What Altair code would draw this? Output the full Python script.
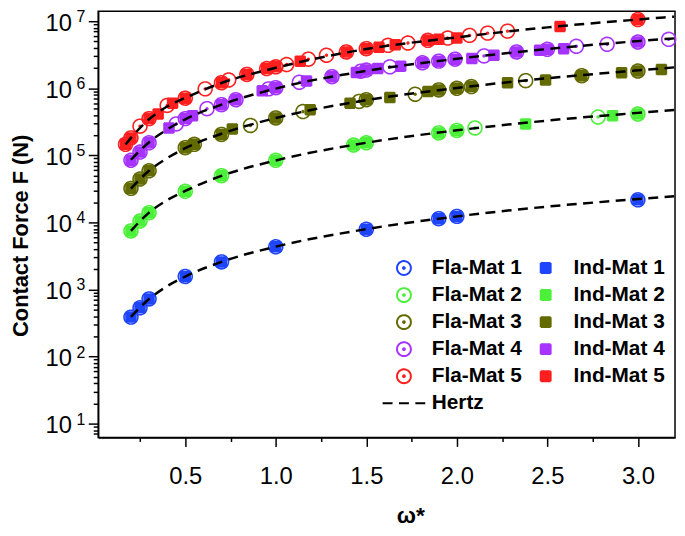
import altair as alt
import pandas as pd

# ---------------- data ----------------
fla1_x = [0.2, 0.25, 0.3, 0.5, 0.7, 1.0, 1.5, 1.9, 2.0, 3.0]
fla1_F = [387, 533, 722, 1563, 2577, 4335, 7906, 11370, 12300, 21700]
ind1_x = [0.2, 0.25, 0.3, 0.5, 0.7, 1.0, 1.5, 1.9, 2.0, 3.0]
ind1_F = [387, 533, 722, 1563, 2577, 4335, 7906, 11370, 12300, 21700]

fla2_x = [0.2, 0.25, 0.3, 0.5, 0.7, 1.0, 1.43, 1.5, 1.9, 2.0, 2.1, 2.78, 3.0]
fla2_F = [7460, 10500, 13960, 29100, 49700, 84500, 142600, 154000, 216000, 235000, 256000, 373000, 413000]
ind2_x = [0.2, 0.25, 0.3, 0.5, 0.7, 1.0, 1.43, 1.5, 1.9, 2.0, 2.38, 2.86, 3.0]
ind2_F = [7460, 10500, 13960, 29100, 49700, 84500, 142600, 154000, 216000, 235000, 294000, 391000, 413000]

fla3_x = [0.2, 0.25, 0.3, 0.5, 0.55, 0.7, 0.86, 1.0, 1.15, 1.46, 1.5, 1.77, 1.9, 2.0, 2.08, 2.38, 2.69, 3.0]
fla3_F = [32200, 44400, 58900, 130000, 146000, 205000, 279000, 361000, 450000, 637000, 675000,
          815000, 946000, 1.0e6, 1.06e6, 1.30e6, 1.54e6, 1.81e6]
ind3_x = [0.2, 0.25, 0.3, 0.5, 0.55, 0.7, 0.76, 1.0, 1.19, 1.41, 1.5, 1.63, 1.84, 1.9, 2.0, 2.08,
          2.28, 2.49, 2.69, 2.91, 3.0, 3.13]
ind3_F = [32200, 44400, 58900, 130000, 146000, 205000, 248000, 361000, 480000, 600000, 675000,
          730000, 893000, 946000, 1.0e6, 1.06e6, 1.21e6, 1.33e6, 1.54e6, 1.71e6, 1.81e6, 1.91e6]

fla4_x = [0.2, 0.25, 0.3, 0.45, 0.5, 0.62, 0.7, 0.78, 0.96, 1.0, 1.13, 1.31, 1.47, 1.5, 1.63, 1.81,
          1.9, 1.99, 2.15, 2.33, 2.5, 2.66, 2.83, 3.0, 3.17]
fla4_F = [84500, 112000, 154000, 294000, 353000, 497000, 569000, 675000, 980000, 1.02e6, 1.23e6,
          1.49e6, 1.80e6, 1.87e6, 2.09e6, 2.40e6, 2.54e6, 2.72e6, 3.04e6, 3.48e6, 3.82e6, 4.23e6,
          4.53e6, 4.90e6, 5.37e6]
ind4_x = [0.2, 0.25, 0.3, 0.41, 0.5, 0.54, 0.7, 0.78, 0.925, 1.0, 1.17, 1.31, 1.445, 1.5, 1.563,
          1.69, 1.81, 1.9, 1.99, 2.083, 2.205, 2.33, 2.457, 2.5, 2.59, 3.0]
ind4_F = [84500, 112000, 154000, 256000, 353000, 390000, 569000, 675000, 916000, 1.02e6, 1.28e6,
          1.49e6, 1.72e6, 1.87e6, 1.97e6, 2.14e6, 2.40e6, 2.54e6, 2.72e6, 2.78e6, 3.11e6, 3.48e6,
          3.69e6, 3.82e6, 3.90e6, 4.90e6]

fla5_x = [0.17, 0.2, 0.25, 0.3, 0.4, 0.5, 0.61, 0.7, 0.74, 0.84, 0.95, 1.0, 1.06, 1.18, 1.28, 1.39,
          1.5, 1.62, 1.73, 1.84, 1.95, 2.07, 2.17, 2.28, 3.0]
fla5_F = [146000, 182000, 272000, 353000, 555000, 711000, 980000, 1.21e6, 1.33e6, 1.61e6, 1.97e6,
          2.09e6, 2.26e6, 2.72e6, 3.11e6, 3.48e6, 3.90e6, 4.37e6, 4.73e6, 5.19e6, 5.61e6, 6.15e6,
          6.65e6, 7.12e6, 1.06e7]
ind5_x = [0.17, 0.2, 0.3, 0.35, 0.43, 0.5, 0.7, 0.84, 0.95, 1.0, 1.135, 1.39, 1.5, 1.57, 1.66,
          1.84, 1.9, 2.0, 2.57, 3.0]
ind5_F = [146000, 182000, 353000, 413000, 600000, 711000, 1.21e6, 1.61e6, 1.97e6, 2.09e6, 2.54e6,
          3.48e6, 3.90e6, 4.08e6, 4.45e6, 5.19e6, 5.37e6, 5.61e6, 8.35e6, 1.06e7]

# Hertz dashed curves
hz1_x = [0.2, 0.3, 0.4, 0.5, 0.7, 1.0, 1.5, 2.0, 2.5, 3.0, 3.2]
hz1_F = [390, 720, 1120, 1560, 2580, 4350, 7950, 12300, 17200, 22300, 24600]
hz2_x = [0.2, 0.3, 0.4, 0.5, 0.7, 1.0, 1.5, 2.0, 2.5, 3.0, 3.2]
hz2_F = [7500, 14000, 21500, 29500, 49500, 84000, 154000, 236000, 330000, 430000, 475000]
hz3_x = [0.2, 0.3, 0.4, 0.5, 0.7, 1.0, 1.5, 2.0, 2.5, 3.0, 3.2]
hz3_F = [32000, 59000, 91000, 128000, 210000, 360000, 665000, 1.01e6, 1.41e6, 1.85e6, 2.05e6]
hz4_x = [0.2, 0.3, 0.4, 0.5, 0.7, 1.0, 1.5, 2.0, 2.5, 3.0, 3.2]
hz4_F = [86000, 157000, 243000, 345000, 570000, 990000, 1.82e6, 2.75e6, 3.85e6, 5.05e6, 5.55e6]
hz5_x = [0.17, 0.2, 0.3, 0.4, 0.5, 0.7, 1.0, 1.5, 2.0, 2.5, 3.0, 3.2]
hz5_F = [145000, 182000, 345000, 535000, 720000, 1.2e6, 2.02e6, 3.85e6, 5.75e6, 8.1e6, 1.06e7, 1.17e7]

mat_colors = ["#1f45fc", "#4cf03a", "#626a00", "#a633ff", "#ff1f1f"]
x_ticks = [0.25, 0.5, 0.75, 1.0, 1.25, 1.5, 1.75, 2.0, 2.25, 2.5, 2.75, 3.0]
y_decades = [1, 2, 3, 4, 5, 6, 7]

# ---------------- tables ----------------
fla = [(fla1_x, fla1_F), (fla2_x, fla2_F), (fla3_x, fla3_F), (fla4_x, fla4_F), (fla5_x, fla5_F)]
ind = [(ind1_x, ind1_F), (ind2_x, ind2_F), (ind3_x, ind3_F), (ind4_x, ind4_F), (ind5_x, ind5_F)]
hz = [(hz1_x, hz1_F), (hz2_x, hz2_F), (hz3_x, hz3_F), (hz4_x, hz4_F), (hz5_x, hz5_F)]

rows = []
for k, (xs, fs) in enumerate(ind):
    for a, b in zip(xs, fs):
        rows.append({"x": a, "F": b, "series": f"Ind-Mat {k+1}"})
for k, (xs, fs) in enumerate(fla):
    for a, b in zip(xs, fs):
        rows.append({"x": a, "F": b, "series": f"Fla-Mat {k+1}"})
pts = pd.DataFrame(rows)

hrows = []
for k, (xs, fs) in enumerate(hz):
    for a, b in zip(xs, fs):
        hrows.append({"x": a, "F": b, "mat": k + 1, "series": "Hertz"})
hzdf = pd.DataFrame(hrows)

expdf = pd.DataFrame({"F": [10.0 ** e for e in y_decades], "e": [str(e) for e in y_decades]})

y_vals = []
for e in range(0, 8):
    for m in range(1, 10):
        v = m * 10.0 ** e
        if 6.3 <= v <= 1.4e7:
            y_vals.append(v)

# ---------------- scales (legend fills column by column) ----------------
ring = ("M1,0A1,1,0,1,1,-1,0A1,1,0,1,1,1,0Z"
        "M0.13,0A0.13,0.13,0,1,1,-0.13,0A0.13,0.13,0,1,1,0.13,0Z")
domain, stroke_r, fill_r, shape_r, size_r, dash_r = [], [], [], [], [], []
for k in range(5):
    domain.append(f"Fla-Mat {k+1}")
    stroke_r.append(mat_colors[k])
    fill_r.append("transparent")
    shape_r.append(ring)
    size_r.append(196)
    dash_r.append([1, 0])
domain.append("Hertz")
stroke_r.append("black")
fill_r.append("transparent")
shape_r.append("stroke")
size_r.append(1849)
dash_r.append([10, 6.5])
for k in range(5):
    domain.append(f"Ind-Mat {k+1}")
    stroke_r.append(mat_colors[k])
    fill_r.append(mat_colors[k])
    shape_r.append("square")
    size_r.append(100)
    dash_r.append([1, 0])

leg = alt.Legend(title=None)
xscale = alt.Scale(domain=[0.019, 3.205], nice=False, zero=False)
yscale = alt.Scale(type="log", domain=[10 ** 0.793, 10 ** 7.148], nice=False)

is_dec = "abs(log(datum.value)/LN10 - round(log(datum.value)/LN10)) < 0.001"
xaxis = alt.Axis(
    values=x_ticks,
    labelExpr="(datum.value*2) % 1 == 0 ? format(datum.value, '.1f') : ''",
    tickSize={"condition": {"test": "(datum.value*2) % 1 == 0", "value": 9}, "value": 4},
    labelPadding=18, labelFont="Liberation Sans", labelFontSize=24,
    labelOverlap=False, labelFlush=False, grid=False,
    title="ω*", titleFont="Liberation Sans", titleFontSize=23, titleFontWeight="bold",
    titleX=315, titleY=86, titleBaseline="alphabetic", titleAlign="center",
)
yaxis = alt.Axis(
    values=y_vals,
    labelExpr=f"{is_dec} ? '10' : ''",
    tickSize={"condition": {"test": is_dec, "value": 10}, "value": 5},
    labelPadding=17, labelFont="Liberation Sans", labelFontSize=24, labelOffset=2,
    labelOverlap=False, labelFlush=False, grid=False,
    title="Contact Force F (N)", titleFont="Liberation Sans", titleFontSize=22,
    titleFontWeight="bold", titleX=-78, titleY=226, titleBaseline="middle", titleAlign="center",
)

X = alt.X("x:Q", scale=xscale, axis=xaxis)
Y = alt.Y("F:Q", scale=yscale, axis=yaxis)

points = alt.Chart(pts).mark_point(opacity=1, strokeWidth=1.6).encode(
    x=X, y=Y,
    stroke=alt.Stroke("series:N", scale=alt.Scale(domain=domain, range=stroke_r), legend=leg),
    fill=alt.Fill("series:N", scale=alt.Scale(domain=domain, range=fill_r), legend=leg),
    shape=alt.Shape("series:N", scale=alt.Scale(domain=domain, range=shape_r), legend=leg),
    size=alt.Size("series:N", scale=alt.Scale(type="ordinal", domain=domain, range=size_r), legend=leg),
    strokeDash=alt.StrokeDash("series:N", scale=alt.Scale(domain=domain, range=dash_r), legend=leg),
)

lines = alt.Chart(hzdf).mark_line(strokeWidth=2.5, interpolate="monotone").encode(
    x=X, y=Y, detail="mat:N",
    stroke=alt.Stroke("series:N", scale=alt.Scale(domain=domain, range=stroke_r), legend=leg),
    strokeDash=alt.StrokeDash("series:N", scale=alt.Scale(domain=domain, range=dash_r), legend=leg),
)

exps = alt.Chart(expdf).mark_text(
    align="left", baseline="middle", font="Liberation Sans", fontSize=16, dy=-4, color="black"
).encode(x=alt.value(-22), y=Y, text="e:N")

chart = alt.layer(points, lines, exps).properties(
    width=582, height=430,
    autosize=alt.AutoSizeParams(type="none"),
    padding={"left": 91, "top": 1, "right": 2, "bottom": 89},
).configure_view(
    stroke="black", strokeWidth=1.5
).configure_axis(
    domainColor="black", domainWidth=1.5, tickColor="black", tickWidth=1.5,
    labelColor="black", titleColor="black",
).configure_legend(
    orient="none", legendX=286, legendY=249, columns=2,
    labelFont="Liberation Sans", labelFontSize=21, labelFontWeight="bold", labelColor="black",
    labelOffset=5.5, rowPadding=6.3, columnPadding=1, clipHeight=20,
    symbolStrokeWidth=2, padding=0, labelLimit=300,
)

chart.save("out.html", embed_options={"renderer": "svg", "actions": False})
